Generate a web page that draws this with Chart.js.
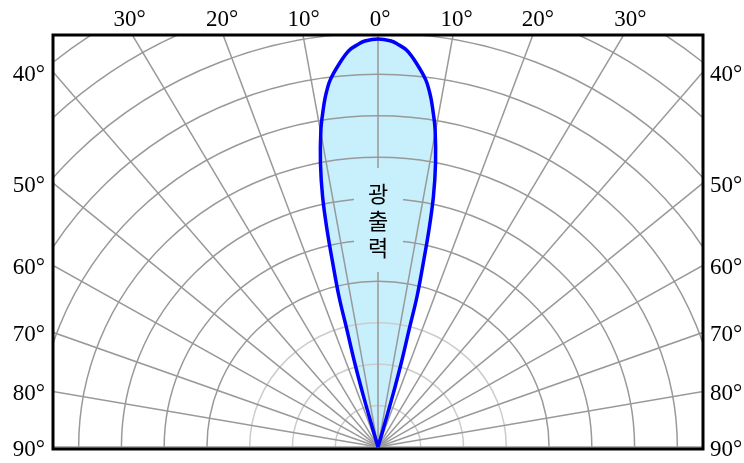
<!DOCTYPE html>
<html><head><meta charset="utf-8">
<script src="https://cdn.jsdelivr.net/npm/chart.js@4/dist/chart.umd.min.js"></script>
<style>html,body{margin:0;padding:0;background:#fff}#wrap{width:744px;height:463px;position:relative}</style>
</head><body><div id="wrap"><canvas id="c"></canvas></div>
<script>
// Polar radiation pattern (degrees from axis, relative intensity %)
const angleDeg  = [0, 1.8, 2.7, 4.05, 5.5, 7.2, 8.3, 9.1, 9.9, 11.1, 12.1, 12.8, 13.4, 14.1, 14.4, 15.0, 15.5, 15.8, 15.8];
const intensity = [98.55, 98.1, 97.4, 96.0, 93.2, 89.3, 85.4, 81.7, 77.7, 69.9, 61.8, 53.8, 45.7, 37.4, 29.2, 21, 12.6, 4.4, 0];
const topTickAngles  = [-30, -20, -10, 0, 10, 20, 30];
const sideTickAngles = [40, 50, 60, 70, 80, 90];
const ringValues  = [10, 20, 30, 40, 50, 60, 70, 80, 90, 100, 110, 120, 130, 140];
const spokeAngles = [-90, -80, -70, -60, -50, -40, -30, -20, -10, 0, 10, 20, 30, 40, 50, 60, 70, 80, 90];
const centerLabel = ['광', '출', '력'];

const rad = d => d * Math.PI / 180;
const loop = [];
for (let i = angleDeg.length - 1; i >= 0; i--) loop.push({x: intensity[i] * Math.sin(rad(-angleDeg[i])), y: intensity[i] * Math.cos(rad(angleDeg[i]))});
for (let i = 1; i < angleDeg.length; i++) loop.push({x: intensity[i] * Math.sin(rad(angleDeg[i])), y: intensity[i] * Math.cos(rad(angleDeg[i]))});

const FILL = '#c8effc';
const SERIF = '23px "Liberation Serif", "Times New Roman", serif';
const polarGrid = {
  id: 'polarGrid',
  beforeDatasetsDraw(chart) {
    const {ctx, chartArea: a, scales: {x: xs, y: ys}} = chart;
    const cx = xs.getPixelForValue(0), cy = ys.getPixelForValue(0);
    ctx.save();
    ctx.beginPath(); ctx.rect(a.left, a.top, a.right - a.left, a.bottom - a.top); ctx.clip();
    // lobe fill (follows the dataset's own curve)
    const pts = chart.getDatasetMeta(0).data;
    ctx.beginPath();
    pts.forEach((p, i) => {
      if (!i) { ctx.moveTo(p.x, p.y); return; }
      const q = pts[i - 1];
      ctx.bezierCurveTo(q.cp2x ?? q.x, q.cp2y ?? q.y, p.cp1x ?? p.x, p.cp1y ?? p.y, p.x, p.y);
    });
    ctx.closePath(); ctx.fillStyle = FILL; ctx.fill();
    // rings
    ctx.lineWidth = 1.5;
    ringValues.forEach(r => {
      const rx = xs.getPixelForValue(r) - cx, ry = cy - ys.getPixelForValue(r);
      ctx.beginPath(); ctx.ellipse(cx, cy, rx, ry, 0, Math.PI, 2 * Math.PI);
      ctx.strokeStyle = r <= 30 ? '#cccccc' : '#999999'; ctx.stroke();
    });
    // spokes
    ctx.strokeStyle = '#999999';
    spokeAngles.forEach(d => {
      const R = 300;
      ctx.beginPath(); ctx.moveTo(cx, cy);
      ctx.lineTo(xs.getPixelForValue(R * Math.sin(rad(d))), ys.getPixelForValue(R * Math.cos(rad(d))));
      ctx.stroke();
    });
    ctx.restore();
  },
  afterDatasetsDraw(chart) {
    const {ctx, chartArea: a, scales: {x: xs, y: ys}} = chart;
    const cx = xs.getPixelForValue(0);
    ctx.save();
    ctx.fillStyle = FILL;
    ctx.fillRect(cx - 24, 168, 49, 104);
    ctx.fillStyle = '#000';
    ctx.font = '22px "Noto Sans CJK KR", sans-serif';
    ctx.textAlign = 'center'; ctx.textBaseline = 'middle';
    centerLabel.forEach((ch, i) => ctx.fillText(ch, cx, 194 + i * 27));
    // border
    ctx.lineWidth = 3; ctx.strokeStyle = '#000';
    ctx.strokeRect(a.left, a.top, a.right - a.left, a.bottom - a.top);
    // tick labels
    ctx.font = SERIF;
    ctx.textBaseline = 'alphabetic';
    ctx.textAlign = 'center';
    const yLab = ys.getValueForPixel(a.top - 8);
    topTickAngles.forEach(d => {
      const px = xs.getPixelForValue(yLab * Math.tan(rad(d)));
      ctx.fillText(Math.abs(d) + '°', px + 2, 26);
    });
    sideTickAngles.forEach(d => {
      const yv = d === 90 ? 0 : xs.max / Math.tan(rad(d));
      const py = ys.getPixelForValue(yv);
      ctx.textAlign = 'right'; ctx.fillText(d + '°', a.left - 8, py + 9);
      ctx.textAlign = 'left'; ctx.fillText(d + '°', a.right + 7, py + 9);
    });
    ctx.restore();
  }
};

new Chart(document.getElementById('c'), {
  type: 'scatter',
  data: { datasets: [{ data: loop, showLine: true, fill: false, borderColor: '#0000ff', borderWidth: 3.5, pointRadius: 0, tension: 0.35 }] },
  options: {
    responsive: true, maintainAspectRatio: false, animation: false,
    layout: { padding: { left: 53, right: 41, top: 35, bottom: 14 } },
    scales: {
      x: { type: 'linear', min: -76, max: 76, display: false },
      y: { type: 'linear', min: -0.5, max: 99.5, display: false }
    },
    plugins: { legend: { display: false }, tooltip: { enabled: false } }
  },
  plugins: [polarGrid]
});
</script>
</body></html>
